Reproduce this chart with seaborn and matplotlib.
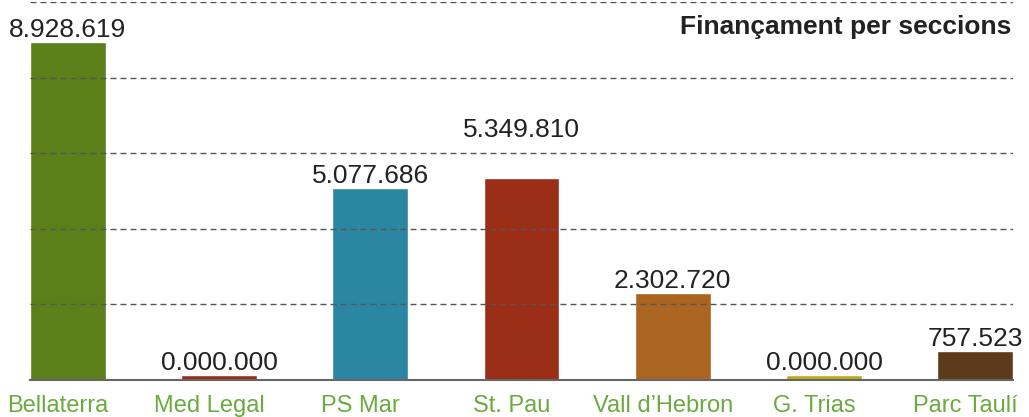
import pandas as pd
import matplotlib
matplotlib.use('Agg')
import matplotlib.pyplot as plt
import matplotlib.transforms as mtransforms
import seaborn as sns

# data
seccions = ['Bellaterra', 'Med Legal', 'PS Mar', 'St. Pau', 'Vall d\u2019Hebron', 'G. Trias', 'Parc Taul\u00ed']
financament = [8928619, 0, 5077686, 5349810, 2302720, 0, 757523]
colors = ['#5b8019', '#9a2e16', '#2b86a2', '#9a2e16', '#ab6520', '#bfa81c', '#5c3a1a']
# extra lift (points) of the value labels, St. Pau is pushed up in the original
label_lift = [0, 0, 0, 26, 0, 0, 0]

# empty sections still get a thin visible bar
min_bar = 145000

df = pd.DataFrame({'seccio': seccions, 'valor': financament})
df['alt'] = df['valor'].clip(lower=min_bar)

sns.set_style('white')
plt.rcParams['font.family'] = ['Liberation Sans', 'DejaVu Sans']

fig = plt.figure(figsize=(10.29, 4.17), dpi=100)
ax = fig.add_axes([30 / 1029, 37 / 417, 983 / 1029, 378 / 417])

sns.barplot(data=df, x='seccio', y='alt', hue='seccio', palette=colors,
            legend=False, width=0.5, saturation=1, ax=ax, zorder=2)

ax.set_xlim(-0.25, len(seccions) - 0.75)
ax.set_ylim(0, 10000000)
ax.set_yticks(range(0, 10000001, 2000000))
ax.yaxis.grid(True, color='#555555', linestyle=(0, (4.3, 2.9)), linewidth=1, zorder=3)
ax.set_axisbelow(False)
for s in ['top', 'right', 'left']:
    ax.spines[s].set_visible(False)
ax.spines['bottom'].set_color('#666666')
ax.spines['bottom'].set_linewidth(1.5)
ax.spines['bottom'].set_zorder(4)

ax.set_yticklabels([])
ax.tick_params(axis='y', length=0)
ax.tick_params(axis='x', length=0, pad=11, labelsize=17, labelcolor='#6aaa3f')
ax.set_xlabel('')
ax.set_ylabel('')

# tick labels sit a little left of the bar centres
shift = mtransforms.ScaledTranslation(-10 / 100, 0, fig.dpi_scale_trans)
for lbl in ax.get_xticklabels():
    lbl.set_transform(lbl.get_transform() + shift)

for i, (v, h) in enumerate(zip(df['valor'], df['alt'])):
    txt = '{:,}'.format(v).replace(',', '.') if v > 0 else '0.000.000'
    ax.annotate(txt, (i, h), xytext=(0, label_lift[i]), textcoords='offset points',
                ha='center', va='bottom', fontsize=19, color='#222222')

ax.text(0.998, 0.933, 'Finan\u00e7ament per seccions', transform=ax.transAxes,
        ha='right', va='center', fontsize=19, fontweight='bold', color='#222222')

fig.savefig('out.png', dpi=100)
